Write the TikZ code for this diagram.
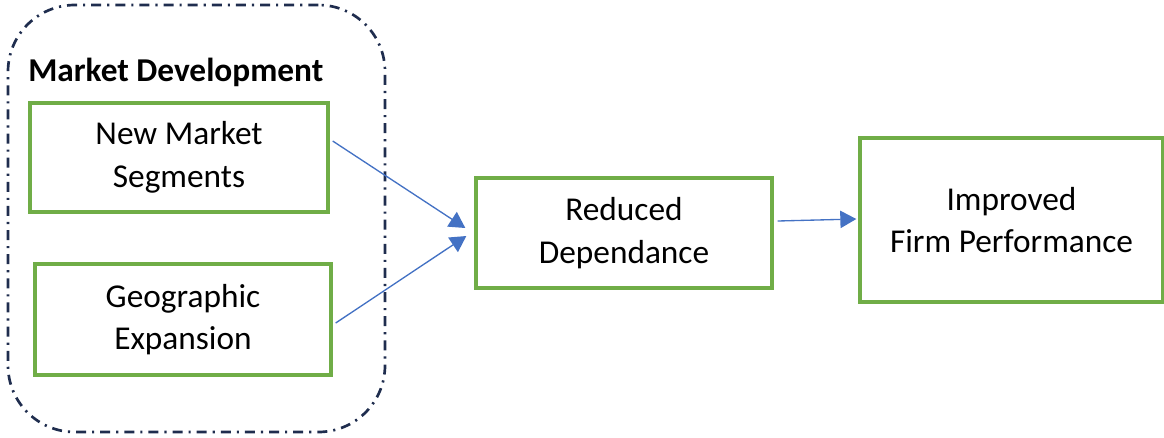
\documentclass[tikz,border=0pt]{standalone}
\usepackage{fontspec}
\setmainfont{Carlito}
\usetikzlibrary{arrows.meta}
\definecolor{boxgreen}{HTML}{70AD47}
\definecolor{linkblue}{HTML}{4472C4}
\definecolor{groupnavy}{HTML}{1F2D4E}
\begin{document}
\begin{tikzpicture}[x=0.75pt, y=-0.75pt,
	box/.style={draw=boxgreen, line width=2.5pt, inner sep=0pt, align=center, font=\fontsize{25}{32}\selectfont},
	link/.style={draw=linkblue, line width=1pt, -{Triangle[length=12pt, width=13pt]}},
	grouping/.style={draw=groupnavy, line width=2pt, rounded corners=50pt, dash pattern=on 7.5pt off 4.5pt on 1.6pt off 4.5pt}]
	
	\useasboundingbox (0,0) rectangle (1164,437);
	
	\node (md)[grouping, minimum width=282.75pt, minimum height=320.25pt] at (196.5,218.5) {};
	\node (mdtitle)[anchor=west, inner sep=0pt, font=\fontsize{25}{30}\selectfont\bfseries] at (28,72) {Market Development};
	
	\node (nms)[box, minimum width=223.5pt, minimum height=81.75pt] at (179,157.5) {New Market\\Segments};
	\node (ge)[box, minimum width=222pt, minimum height=83.25pt] at (183,319.5) {Geographic\\Expansion};
	\node (rd)[box, minimum width=222pt, minimum height=82.5pt] at (624,233) {Reduced\\Dependance};
	\node (ifp)[box, minimum width=227.25pt, minimum height=123pt] at (1011.5,220) {Improved\\Firm Performance};
	
	\draw[link] ([shift={(3,-16.5)}]nms.east) -- ([shift={(-9,-5)}]rd.west);
	\draw[link] ([shift={(3,3.5)}]ge.east) -- ([shift={(-8,3)}]rd.west);
	\draw[link] ([shift={(4,-12)}]rd.east) -- ([shift={(-2,-1)}]ifp.west);
	
\end{tikzpicture}
\end{document}
